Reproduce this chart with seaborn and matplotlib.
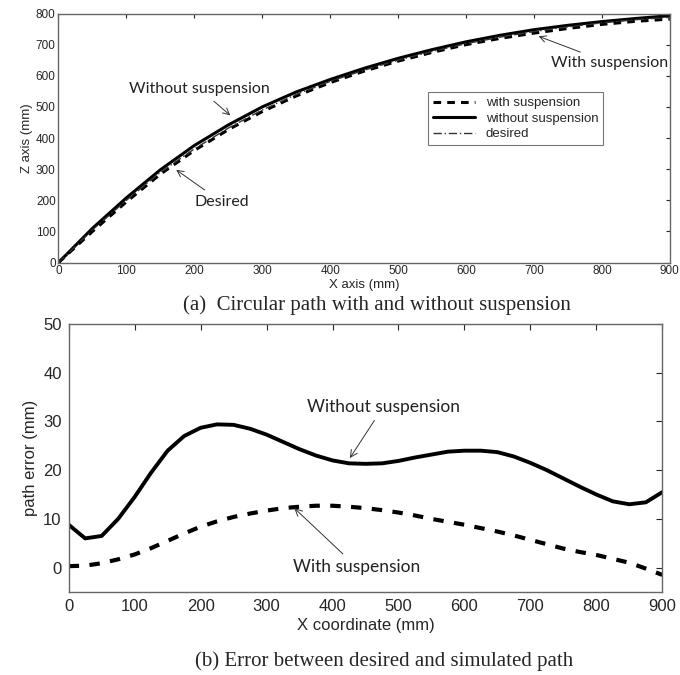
import numpy as np
import pandas as pd
import matplotlib
matplotlib.use("Agg")
import matplotlib.pyplot as plt
import seaborn as sns

# circular path (top plot)
x_path = [0, 50, 100, 150, 200, 250, 300, 350, 400, 450, 500, 550, 600, 650, 700, 750, 800, 850, 900]
z_desired = [0, 105, 200, 290, 365, 432, 490, 540, 582, 618, 650, 678, 703, 724, 742, 757, 770, 780, 788]
z_without = [0, 110, 208, 298, 376, 442, 500, 548, 588, 624, 656, 684, 709, 730, 748, 762, 774, 784, 793]
z_with = [0, 100, 195, 284, 360, 427, 485, 535, 578, 615, 647, 675, 700, 720, 737, 752, 765, 775, 782]

# path error (bottom plot)
x_err = list(range(0, 901, 25))
err_without = [8.8, 6.0, 6.5, 10.0, 14.5, 19.5, 24.0, 27.0, 28.7, 29.4, 29.3, 28.5, 27.3,
               25.8, 24.3, 23.0, 22.0, 21.4, 21.3, 21.4, 21.9, 22.6, 23.2, 23.8, 24.0,
               24.0, 23.7, 22.8, 21.5, 20.0, 18.3, 16.6, 15.0, 13.6, 13.0, 13.4, 15.5]
err_with = [0.3, 0.4, 0.9, 1.7, 2.7, 4.0, 5.5, 7.0, 8.4, 9.5, 10.4, 11.1, 11.7, 12.2,
            12.5, 12.7, 12.7, 12.5, 12.2, 11.8, 11.3, 10.7, 10.0, 9.4, 8.8, 8.1, 7.4,
            6.6, 5.7, 4.8, 3.9, 3.2, 2.6, 1.8, 1.0, -0.2, -1.5]

sns.set_style("white")
plt.rcParams['font.family'] = ['Liberation Sans', 'DejaVu Sans']

df_path = pd.DataFrame({"x": x_path, "with": z_with, "without": z_without, "desired": z_desired})
df_err = pd.DataFrame({"x": x_err, "without": err_without, "with": err_with})

fig = plt.figure(figsize=(6.8, 6.75), dpi=100)
ax1 = fig.add_axes([0.086, 0.611, 0.899, 0.369])
ax2 = fig.add_axes([0.101, 0.123, 0.873, 0.397])

# top plot
sns.lineplot(data=df_path, x="x", y="with", ax=ax1, color="black", lw=2.2,
             linestyle=(0, (2.5, 2)), label="with suspension")
sns.lineplot(data=df_path, x="x", y="without", ax=ax1, color="black", lw=2.2,
             label="without suspension")
sns.lineplot(data=df_path, x="x", y="desired", ax=ax1, color="#333333", lw=1.0,
             linestyle=(0, (6, 2, 1, 2)), label="desired")
ax1.set_xlim(0, 900)
ax1.set_ylim(0, 800)
ax1.set_xticks(range(0, 901, 100))
ax1.set_yticks(range(0, 801, 100))
ax1.set_xlabel("X axis (mm)", fontsize=9.5, labelpad=1)
ax1.set_ylabel("Z axis (mm)", fontsize=9.5, labelpad=2)
ax1.tick_params(labelsize=8.5, direction="in", length=3, top=True, right=True, pad=2)
leg = ax1.legend(loc="upper left", bbox_to_anchor=(0.594, 0.71), fontsize=9.5, frameon=True,
                 fancybox=False, edgecolor="#555555", handlelength=3.2, borderpad=0.35,
                 labelspacing=0.25)
leg.get_frame().set_linewidth(0.8)

ann_font = dict(fontsize=11.5, family="Lato", color="#222222")
arr = dict(arrowstyle="->", color="#333333", lw=0.7)
ax1.annotate("Without suspension", xy=(256, 467), xytext=(208, 557), ha="center", va="center",
             arrowprops=arr, **ann_font)
ax1.annotate("Desired", xy=(170, 303), xytext=(240, 195), ha="center", va="center",
             arrowprops=arr, **ann_font)
ax1.annotate("With suspension", xy=(703, 730), xytext=(812, 640), ha="center", va="center",
             arrowprops=arr, **ann_font)

# bottom plot
sns.lineplot(data=df_err, x="x", y="without", ax=ax2, color="black", lw=2.8)
sns.lineplot(data=df_err, x="x", y="with", ax=ax2, color="black", lw=3.0,
             linestyle=(0, (2.5, 2.5)))
ax2.set_xlim(0, 900)
ax2.set_ylim(-5, 50)
ax2.set_xticks(range(0, 901, 100))
ax2.set_yticks(range(0, 51, 10))
ax2.set_xlabel("X coordinate (mm)", fontsize=12, labelpad=3)
ax2.set_ylabel("path error (mm)", fontsize=12, labelpad=4)
ax2.tick_params(labelsize=12, direction="in", length=4, top=True, right=True, pad=5)
ann_font2 = dict(fontsize=12.5, family="Lato", color="#222222")
ax2.annotate("Without suspension", xy=(424, 22), xytext=(477, 33), ha="center", va="center",
             arrowprops=arr, **ann_font2)
ax2.annotate("With suspension", xy=(339, 12.6), xytext=(437, 0.1), ha="center", va="center",
             arrowprops=arr, **ann_font2)

for ax in (ax1, ax2):
    for s in ax.spines.values():
        s.set_color("#666666")
        s.set_linewidth(1.0)

fig.text(0.554, 1 - 305 / 675, "(a)  Circular path with and without suspension",
         ha="center", va="center", fontsize=15, family="Liberation Serif")
fig.text(0.565, 1 - 661 / 675, "(b) Error between desired and simulated path",
         ha="center", va="center", fontsize=15, family="Liberation Serif")

fig.savefig("out.png", dpi=100)
